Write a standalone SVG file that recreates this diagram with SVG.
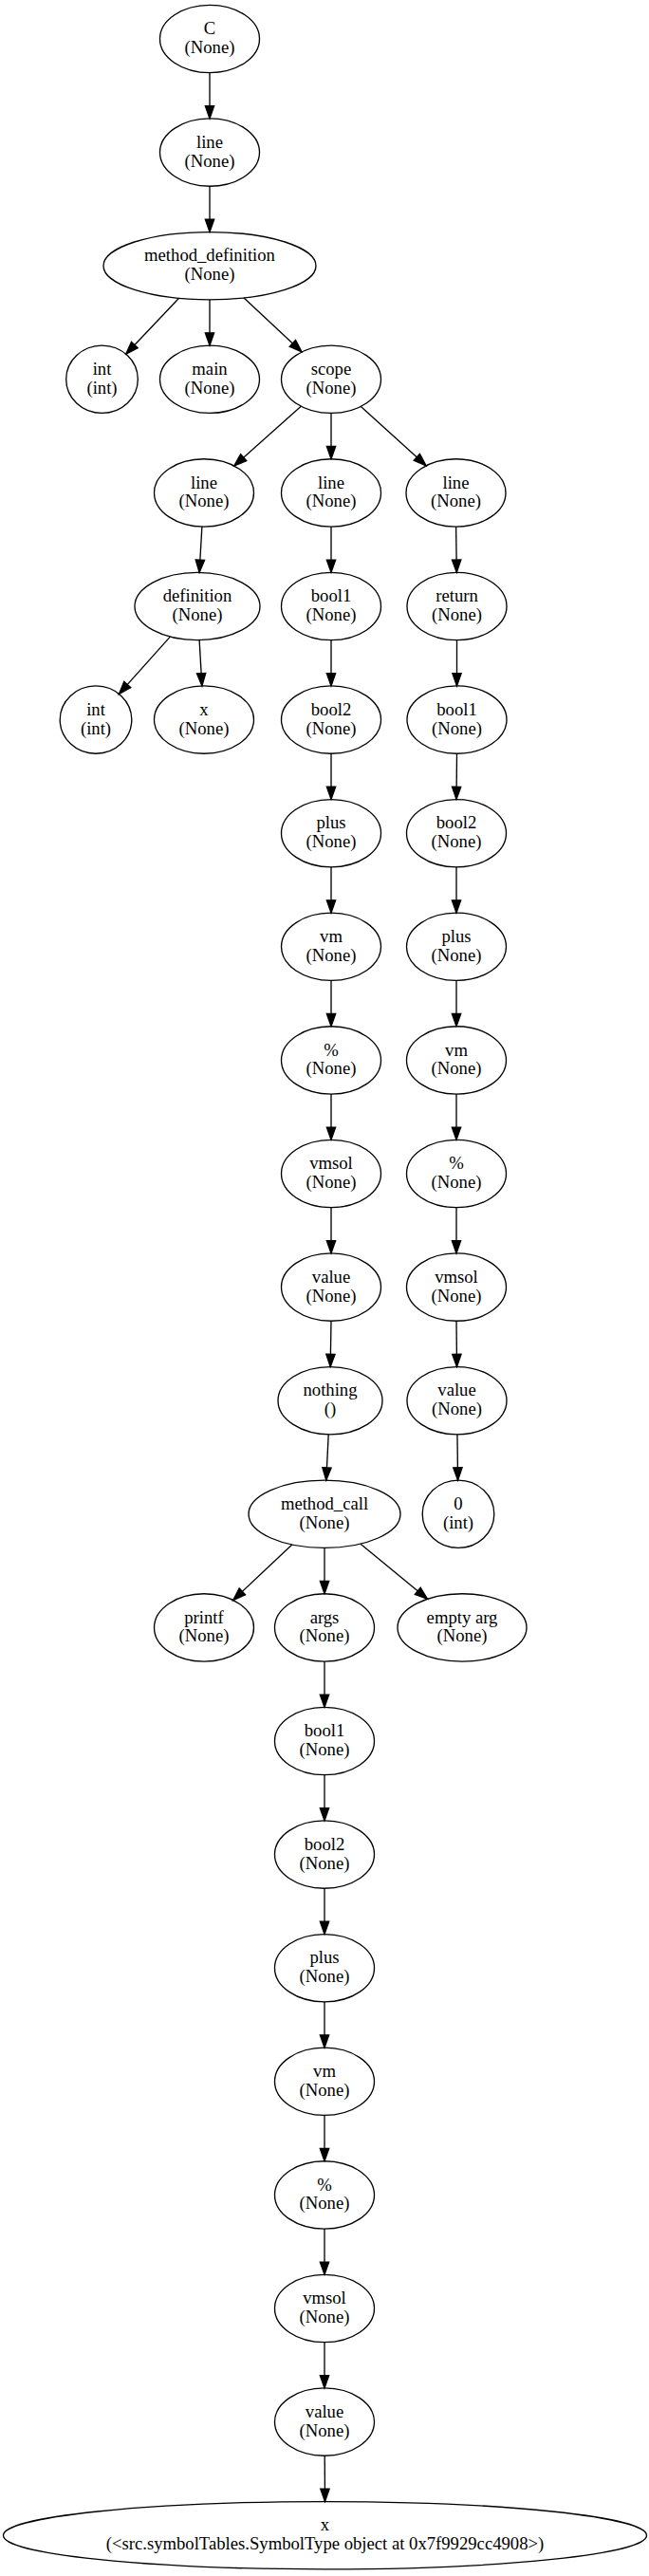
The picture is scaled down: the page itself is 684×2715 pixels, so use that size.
<svg xmlns="http://www.w3.org/2000/svg" width="684" height="2715" viewBox="0 0 684 2715">
<style>
  ellipse { fill: none; stroke: #000; stroke-width: 1.33; }
  text { font-family: "Liberation Serif", "Times New Roman", serif; font-size: 18.67px; text-anchor: middle; fill: #000; }
  #edges line { stroke: #000; stroke-width: 1.33; marker-end: url(#arrow); }
</style>
<defs>
  <marker id="arrow" markerUnits="userSpaceOnUse" markerWidth="16" markerHeight="12" refX="13.3" refY="4.67" orient="auto" viewBox="-1 -1 16 12">
    <path d="M0,0 L13.3,4.67 L0,9.33 z" fill="#000" stroke="#000" stroke-width="1.33"/>
  </marker>
</defs>
<rect width="684" height="2715" fill="#fff"/>
<g id="edges">
  <line x1="221" y1="76.65" x2="221" y2="124.95"/>
  <line x1="221" y1="196.25" x2="221" y2="244.55"/>
  <line x1="188.6" y1="314.3" x2="132.7" y2="373.2"/>
  <line x1="221" y1="315.85" x2="221" y2="364.15"/>
  <line x1="257.1" y1="313.95" x2="318.1" y2="371"/>
  <line x1="317.2" y1="428.2" x2="246.8" y2="491"/>
  <line x1="349" y1="435.45" x2="349" y2="483.75"/>
  <line x1="380.4" y1="428.4" x2="449.1" y2="490.8"/>
  <line x1="212.9" y1="555.05" x2="210.1" y2="603.4"/>
  <line x1="349" y1="555.05" x2="349" y2="603.35"/>
  <line x1="480.6" y1="555.05" x2="481.3" y2="603.35"/>
  <line x1="179.3" y1="671.1" x2="125.4" y2="731.4"/>
  <line x1="210.1" y1="674.65" x2="212.9" y2="722.95"/>
  <line x1="349" y1="674.65" x2="349" y2="722.95"/>
  <line x1="481.5" y1="674.65" x2="481.5" y2="722.95"/>
  <line x1="349" y1="794.25" x2="349" y2="842.55"/>
  <line x1="481.5" y1="794.25" x2="481" y2="842.55"/>
  <line x1="349" y1="913.85" x2="349" y2="962.15"/>
  <line x1="481" y1="913.85" x2="481" y2="962.15"/>
  <line x1="349" y1="1033.45" x2="349" y2="1081.75"/>
  <line x1="481" y1="1033.45" x2="481" y2="1081.75"/>
  <line x1="349" y1="1153.05" x2="349" y2="1201.35"/>
  <line x1="481" y1="1153.05" x2="481" y2="1201.35"/>
  <line x1="349" y1="1272.65" x2="349" y2="1320.95"/>
  <line x1="481" y1="1272.65" x2="481" y2="1320.95"/>
  <line x1="349" y1="1392.25" x2="348.2" y2="1440.55"/>
  <line x1="481" y1="1392.25" x2="481.5" y2="1440.55"/>
  <line x1="346.2" y1="1511.85" x2="343.8" y2="1560.15"/>
  <line x1="481.95" y1="1511.85" x2="482.55" y2="1560.15"/>
  <line x1="307.8" y1="1628" x2="245.7" y2="1686.5"/>
  <line x1="342" y1="1631.45" x2="342" y2="1679.75"/>
  <line x1="380" y1="1627.2" x2="450.5" y2="1685.3"/>
  <line x1="342" y1="1751.05" x2="342" y2="1799.35"/>
  <line x1="342" y1="1870.65" x2="342" y2="1918.95"/>
  <line x1="342" y1="1990.25" x2="342" y2="2038.55"/>
  <line x1="342" y1="2109.85" x2="342" y2="2158.15"/>
  <line x1="342" y1="2229.45" x2="342" y2="2277.75"/>
  <line x1="342" y1="2349.05" x2="342" y2="2397.35"/>
  <line x1="342" y1="2468.65" x2="342" y2="2516.95"/>
  <line x1="342.2" y1="2588.25" x2="342.5" y2="2636.55"/>
</g>
<g id="n0"><ellipse cx="221" cy="41" rx="52.5" ry="35.65"/><text x="221" y="36.2">C</text><text x="221" y="56">(None)</text></g>
<g id="n1"><ellipse cx="221" cy="160.6" rx="52.5" ry="35.65"/><text x="221" y="155.8">line</text><text x="221" y="175.6">(None)</text></g>
<g id="n2"><ellipse cx="221" cy="280.2" rx="112" ry="35.65"/><text x="221" y="275.4">method_definition</text><text x="221" y="295.2">(None)</text></g>
<g id="n3"><ellipse cx="107.5" cy="399.8" rx="37.8" ry="35.65"/><text x="107.5" y="395">int</text><text x="107.5" y="414.8">(int)</text></g>
<g id="n4"><ellipse cx="221" cy="399.8" rx="52.5" ry="35.65"/><text x="221" y="395">main</text><text x="221" y="414.8">(None)</text></g>
<g id="n5"><ellipse cx="349" cy="399.8" rx="52.5" ry="35.65"/><text x="349" y="395">scope</text><text x="349" y="414.8">(None)</text></g>
<g id="n6"><ellipse cx="215" cy="519.4" rx="52.5" ry="35.65"/><text x="215" y="514.6">line</text><text x="215" y="534.4">(None)</text></g>
<g id="n7"><ellipse cx="349" cy="519.4" rx="52.5" ry="35.65"/><text x="349" y="514.6">line</text><text x="349" y="534.4">(None)</text></g>
<g id="n8"><ellipse cx="480.5" cy="519.4" rx="52.5" ry="35.65"/><text x="480.5" y="514.6">line</text><text x="480.5" y="534.4">(None)</text></g>
<g id="n9"><ellipse cx="208" cy="639" rx="66" ry="35.65"/><text x="208" y="634.2">definition</text><text x="208" y="654">(None)</text></g>
<g id="n10"><ellipse cx="349" cy="639" rx="52.5" ry="35.65"/><text x="349" y="634.2">bool1</text><text x="349" y="654">(None)</text></g>
<g id="n11"><ellipse cx="481.5" cy="639" rx="52.5" ry="35.65"/><text x="481.5" y="634.2">return</text><text x="481.5" y="654">(None)</text></g>
<g id="n12"><ellipse cx="101" cy="758.6" rx="37.8" ry="35.65"/><text x="101" y="753.8">int</text><text x="101" y="773.6">(int)</text></g>
<g id="n13"><ellipse cx="215" cy="758.6" rx="52.5" ry="35.65"/><text x="215" y="753.8">x</text><text x="215" y="773.6">(None)</text></g>
<g id="n14"><ellipse cx="349" cy="758.6" rx="52.5" ry="35.65"/><text x="349" y="753.8">bool2</text><text x="349" y="773.6">(None)</text></g>
<g id="n15"><ellipse cx="481.5" cy="758.6" rx="52.5" ry="35.65"/><text x="481.5" y="753.8">bool1</text><text x="481.5" y="773.6">(None)</text></g>
<g id="n16"><ellipse cx="349" cy="878.2" rx="52.5" ry="35.65"/><text x="349" y="873.4">plus</text><text x="349" y="893.2">(None)</text></g>
<g id="n17"><ellipse cx="481" cy="878.2" rx="52.5" ry="35.65"/><text x="481" y="873.4">bool2</text><text x="481" y="893.2">(None)</text></g>
<g id="n18"><ellipse cx="349" cy="997.8" rx="52.5" ry="35.65"/><text x="349" y="993">vm</text><text x="349" y="1012.8">(None)</text></g>
<g id="n19"><ellipse cx="481" cy="997.8" rx="52.5" ry="35.65"/><text x="481" y="993">plus</text><text x="481" y="1012.8">(None)</text></g>
<g id="n20"><ellipse cx="349" cy="1117.4" rx="52.5" ry="35.65"/><text x="349" y="1112.6">%</text><text x="349" y="1132.4">(None)</text></g>
<g id="n21"><ellipse cx="481" cy="1117.4" rx="52.5" ry="35.65"/><text x="481" y="1112.6">vm</text><text x="481" y="1132.4">(None)</text></g>
<g id="n22"><ellipse cx="349" cy="1237" rx="52.5" ry="35.65"/><text x="349" y="1232.2">vmsol</text><text x="349" y="1252">(None)</text></g>
<g id="n23"><ellipse cx="481" cy="1237" rx="52.5" ry="35.65"/><text x="481" y="1232.2">%</text><text x="481" y="1252">(None)</text></g>
<g id="n24"><ellipse cx="349" cy="1356.6" rx="52.5" ry="35.65"/><text x="349" y="1351.8">value</text><text x="349" y="1371.6">(None)</text></g>
<g id="n25"><ellipse cx="481" cy="1356.6" rx="52.5" ry="35.65"/><text x="481" y="1351.8">vmsol</text><text x="481" y="1371.6">(None)</text></g>
<g id="n26"><ellipse cx="348" cy="1476.2" rx="55" ry="35.65"/><text x="348" y="1471.4">nothing</text><text x="348" y="1491.2">()</text></g>
<g id="n27"><ellipse cx="481.5" cy="1476.2" rx="52.5" ry="35.65"/><text x="481.5" y="1471.4">value</text><text x="481.5" y="1491.2">(None)</text></g>
<g id="n28"><ellipse cx="342" cy="1595.8" rx="80" ry="35.65"/><text x="342" y="1591">method_call</text><text x="342" y="1610.8">(None)</text></g>
<g id="n29"><ellipse cx="483" cy="1595.8" rx="37.8" ry="35.65"/><text x="483" y="1591">0</text><text x="483" y="1610.8">(int)</text></g>
<g id="n30"><ellipse cx="215" cy="1715.4" rx="52.5" ry="35.65"/><text x="215" y="1710.6">printf</text><text x="215" y="1730.4">(None)</text></g>
<g id="n31"><ellipse cx="342" cy="1715.4" rx="52.5" ry="35.65"/><text x="342" y="1710.6">args</text><text x="342" y="1730.4">(None)</text></g>
<g id="n32"><ellipse cx="487" cy="1715.4" rx="68" ry="35.65"/><text x="487" y="1710.6">empty arg</text><text x="487" y="1730.4">(None)</text></g>
<g id="n33"><ellipse cx="342" cy="1835" rx="52.5" ry="35.65"/><text x="342" y="1830.2">bool1</text><text x="342" y="1850">(None)</text></g>
<g id="n34"><ellipse cx="342" cy="1954.6" rx="52.5" ry="35.65"/><text x="342" y="1949.8">bool2</text><text x="342" y="1969.6">(None)</text></g>
<g id="n35"><ellipse cx="342" cy="2074.2" rx="52.5" ry="35.65"/><text x="342" y="2069.4">plus</text><text x="342" y="2089.2">(None)</text></g>
<g id="n36"><ellipse cx="342" cy="2193.8" rx="52.5" ry="35.65"/><text x="342" y="2189">vm</text><text x="342" y="2208.8">(None)</text></g>
<g id="n37"><ellipse cx="342" cy="2313.4" rx="52.5" ry="35.65"/><text x="342" y="2308.6">%</text><text x="342" y="2328.4">(None)</text></g>
<g id="n38"><ellipse cx="342" cy="2433" rx="52.5" ry="35.65"/><text x="342" y="2428.2">vmsol</text><text x="342" y="2448">(None)</text></g>
<g id="n39"><ellipse cx="342" cy="2552.6" rx="52.5" ry="35.65"/><text x="342" y="2547.8">value</text><text x="342" y="2567.6">(None)</text></g>
<g id="n40"><ellipse cx="342.5" cy="2672.2" rx="339" ry="35.65"/><text x="342.5" y="2667.4">x</text><text x="342.5" y="2687.2">(&lt;src.symbolTables.SymbolType object at 0x7f9929cc4908&gt;)</text></g>
</svg>
